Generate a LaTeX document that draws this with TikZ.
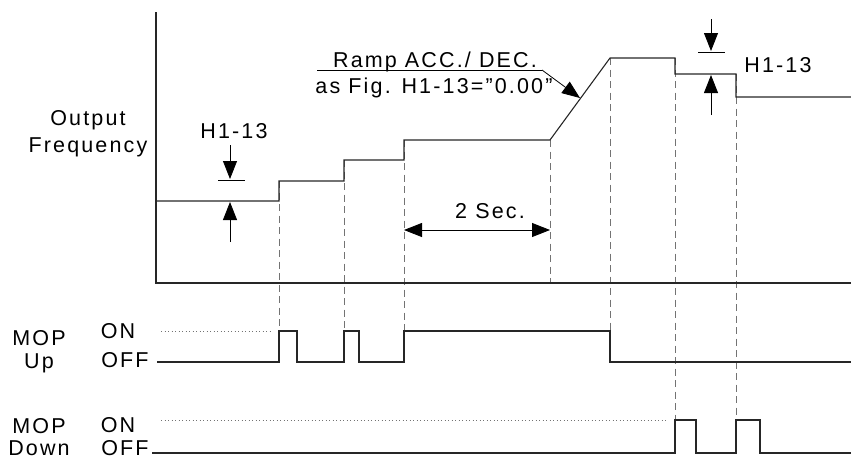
\documentclass[tikz,border=0pt]{standalone}
\usepackage{fontspec}
\setmainfont{Liberation Sans}[LetterSpace=10]
\usetikzlibrary{arrows.meta,positioning}

\begin{document}
\begin{tikzpicture}[x=1pt,y=-1pt,
    sig/.style={draw=black!85, line width=1.1pt},
    guide/.style={draw=black!55, dash pattern=on 7pt off 4.5pt, line width=1pt},
    onlevel/.style={draw=black!55, dash pattern=on 1pt off 2.5pt, line width=0.8pt},
    dim/.style={-{Triangle[length=18pt,width=14pt]}, line width=0.8pt},
    tick/.style={line width=0.8pt},
    lbl/.style={inner sep=0pt, anchor=base, font=\fontsize{21.5}{24}\selectfont},
]
\useasboundingbox (0,0) rectangle (851,459);

% points of the output frequency
\coordinate (f0) at (156,201);
\coordinate (s1) at (279,181);
\coordinate (s2) at (344,160);
\coordinate (s3) at (404,140);
\coordinate (s4) at (550,140);
\coordinate (s5) at (610,58);
\coordinate (s6) at (675,58);
\coordinate (s7) at (736,74);

% dashed guides
\draw[guide] (s1) -- (279,331);
\draw[guide] (s2) -- (344,331);
\draw[guide] (s3) -- (404,331);
\draw[guide] (s4) -- (550,283);
\draw[guide] (s5) -- (610,331);
\draw[guide] (s6) -- (675,420);
\draw[guide] (s7) -- (736,420);

% axes
\coordinate (top) at (156,12);
\coordinate (org) at (156,283);
\coordinate (xend) at (851,283);
\draw[sig] (top) -- (org) -- (xend);

% output frequency
\draw[sig] (f0) -- (279,201) -- (s1) -- (344,181) -- (s2) -- (404,160) -- (s3)
    -- (s4) -- (s5) -- (s6) -- (675,74) -- (s7) -- (736,97) -- (851,97);

% MOP Up
\draw[onlevel] (161,331) -- (270,331);
\draw[sig] (157,362) -- (279,362) -- (279,331) -- (297,331) -- (297,362) -- (344,362)
    -- (344,331) -- (359,331) -- (359,362) -- (404,362) -- (404,331) -- (610,331)
    -- (610,362) -- (851,362);

% MOP Down
\draw[onlevel] (161,420) -- (667,420);
\draw[sig] (152,453) -- (675,453) -- (675,420) -- (696,420) -- (696,453) -- (736,453)
    -- (736,420) -- (760,420) -- (760,453) -- (851,453);

% labels
\node[lbl] (outlbl) at (88,125) {Output};
\node[lbl] (freqlbl) at (88,152) {Frequency};
\node[lbl] (upmop) at (39,345) {MOP};
\node[lbl] (uplbl) at (39,368) {Up};
\node[lbl] (dnmop) at (39,433) {MOP};
\node[lbl] (dnlbl) at (39,455) {Down};
\node[lbl] (upon) at (118,338) {ON};
\node[lbl] (upoff) at (125,367) {OFF};
\node[lbl] (dnon) at (118,432) {ON};
\node[lbl] (dnoff) at (125,455) {OFF};

% H1-13 left
\node[lbl] (hleft) at (234,138) {H1-13};
\draw[dim] (230,145) -- (230,179);
\draw[tick] (218,180) -- (245,180);
\draw[dim] (230,242) -- (230,202);

% H1-13 right
\node[lbl] (hright) at (778,72) {H1-13};
\draw[dim] (711,19) -- (711,51);
\draw[tick] (698,52) -- (725,52);
\draw[dim] (711,115) -- (711,75);

% 2 Sec.
\node[lbl] (twosec) at (490,218) {2 Sec.};
\draw[{Triangle[length=18pt,width=14pt]}-{Triangle[length=18pt,width=14pt]}, line width=0.8pt]
    (s3 |- 0,230) -- (s4 |- 0,230);

% ramp note
\node[lbl] (ramp) at (435,67) {Ramp ACC./ DEC.};
\node[lbl] (asfig) at (434,93) {as Fig. H1-13=”0.00”};
\coordinate (ul0) at (317,70);
\coordinate (ul1) at (542,70);
\draw[tick] (ul0) -- (ul1);
\draw[dim] (ul1) -- (580,98);
\end{tikzpicture}
\end{document}
